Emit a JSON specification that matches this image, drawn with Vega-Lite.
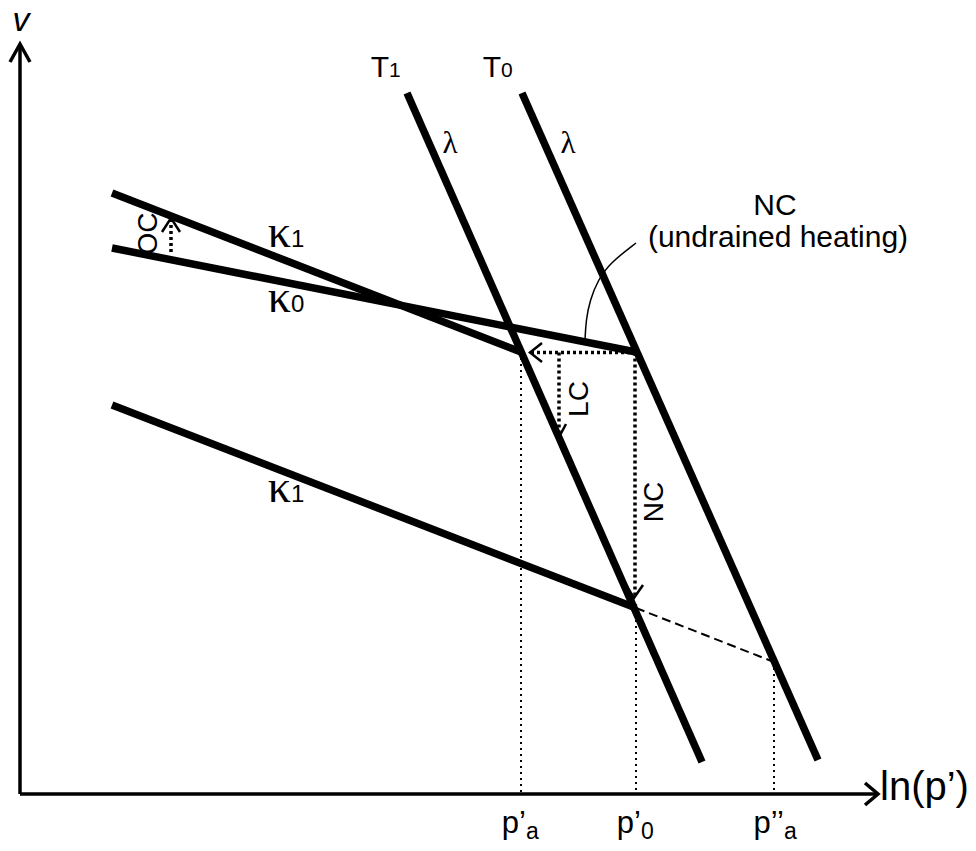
{
  "$schema": "https://vega.github.io/schema/vega-lite/v6.json",
  "width": 976,
  "height": 851,
  "autosize": {"type": "fit", "contains": "padding"},
  "padding": 0,
  "background": "white",
  "config": {"view": {"stroke": null}},
  "datasets": {
    "lines": [
      {"id": "T1", "o": 0, "x": 40.7, "v": 75.8}, {"id": "T1", "o": 1, "x": 70.2, "v": 8.9},
      {"id": "T0", "o": 0, "x": 52.2, "v": 75.8}, {"id": "T0", "o": 1, "x": 81.8, "v": 9.1},
      {"id": "k1u", "o": 0, "x": 11.2, "v": 65.8}, {"id": "k1u", "o": 1, "x": 52.1, "v": 49.9},
      {"id": "k0", "o": 0, "x": 11.2, "v": 60.3}, {"id": "k0", "o": 1, "x": 63.6, "v": 49.9},
      {"id": "k1l", "o": 0, "x": 11.2, "v": 44.6}, {"id": "k1l", "o": 1, "x": 63.6, "v": 24.3}
    ],
    "axes": [
      {"id": "vaxis", "o": 0, "x": 2.0, "v": 5.7}, {"id": "vaxis", "o": 1, "x": 2.0, "v": 80.6},
      {"id": "lnaxis", "o": 0, "x": 2.0, "v": 5.7}, {"id": "lnaxis", "o": 1, "x": 87.7, "v": 5.7},
      {"id": "varrow", "o": 0, "x": 1.0, "v": 78.9}, {"id": "varrow", "o": 1, "x": 2.0, "v": 80.7}, {"id": "varrow", "o": 2, "x": 3.0, "v": 78.9},
      {"id": "lnarrow", "o": 0, "x": 86.5, "v": 6.8}, {"id": "lnarrow", "o": 1, "x": 87.8, "v": 5.7}, {"id": "lnarrow", "o": 2, "x": 86.5, "v": 4.6}
    ],
    "paths": [
      {"id": "OC", "o": 0, "x": 17.1, "v": 59.9}, {"id": "OC", "o": 1, "x": 17.1, "v": 63.1},
      {"id": "heat", "o": 0, "x": 63.6, "v": 49.85}, {"id": "heat", "o": 1, "x": 53.1, "v": 49.85},
      {"id": "LC", "o": 0, "x": 55.9, "v": 49.85}, {"id": "LC", "o": 1, "x": 55.9, "v": 41.5},
      {"id": "NC", "o": 0, "x": 63.5, "v": 49.85}, {"id": "NC", "o": 1, "x": 63.5, "v": 25.4}
    ],
    "pathArrows": [
      {"id": "OC", "o": 0, "x": 16.2, "v": 61.9}, {"id": "OC", "o": 1, "x": 17.1, "v": 63.3}, {"id": "OC", "o": 2, "x": 18.0, "v": 61.9},
      {"id": "heat", "o": 0, "x": 54.2, "v": 50.8}, {"id": "heat", "o": 1, "x": 53.0, "v": 49.85}, {"id": "heat", "o": 2, "x": 54.2, "v": 48.9},
      {"id": "LC", "o": 0, "x": 55.2, "v": 42.7}, {"id": "LC", "o": 1, "x": 55.9, "v": 41.4}, {"id": "LC", "o": 2, "x": 56.6, "v": 42.7},
      {"id": "NC", "o": 0, "x": 62.6, "v": 26.6}, {"id": "NC", "o": 1, "x": 63.4, "v": 25.3}, {"id": "NC", "o": 2, "x": 64.3, "v": 26.6}
    ],
    "projections": [
      {"id": "pa", "o": 0, "x": 52.1, "v": 49.9}, {"id": "pa", "o": 1, "x": 52.1, "v": 5.7},
      {"id": "p0", "o": 0, "x": 63.6, "v": 24.3}, {"id": "p0", "o": 1, "x": 63.6, "v": 5.7},
      {"id": "ppa", "o": 0, "x": 77.4, "v": 18.9}, {"id": "ppa", "o": 1, "x": 77.4, "v": 5.7}
    ],
    "swelling": [
      {"id": "s", "o": 0, "x": 63.6, "v": 24.3}, {"id": "s", "o": 1, "x": 77.4, "v": 18.9}
    ],
    "leader": [
      {"id": "c", "o": 0, "x": 63.6, "v": 60.8},
      {"id": "c", "o": 1, "x": 61.0, "v": 58.8},
      {"id": "c", "o": 2, "x": 59.8, "v": 57.1},
      {"id": "c", "o": 3, "x": 59.0, "v": 55.1},
      {"id": "c", "o": 4, "x": 58.6, "v": 53.1},
      {"id": "c", "o": 5, "x": 58.5, "v": 51.1}
    ],
    "symbolsT": [
      {"x": 38.9, "v": 77.4, "main": "T", "sub": "1"},
      {"x": 50.1, "v": 77.4, "main": "T", "sub": "0"}
    ],
    "symbolsKappa": [
      {"x": 29.1, "v": 60.4, "main": "κ", "sub": "1"},
      {"x": 29.1, "v": 53.9, "main": "κ", "sub": "0"},
      {"x": 29.1, "v": 34.9, "main": "κ", "sub": "1"}
    ],
    "tickBase": [
      {"x": 52.6, "v": 1.8, "t": "p’"},
      {"x": 64.1, "v": 1.8, "t": "p’"},
      {"x": 78.4, "v": 1.8, "t": "p’’"}
    ],
    "tickSub": [
      {"x": 52.6, "v": 1.2, "t": "a"},
      {"x": 64.1, "v": 1.2, "t": "0"},
      {"x": 78.4, "v": 1.2, "t": "a"}
    ],
    "lambda": [
      {"x": 45.0, "v": 69.8, "t": "λ"},
      {"x": 56.8, "v": 69.8, "t": "λ"}
    ],
    "notes": [
      {"x": 77.5, "v": 63.6, "t": "NC"},
      {"x": 77.8, "v": 60.4, "t": "(undrained heating)"}
    ],
    "pathLabels": [
      {"x": 14.9, "v": 61.75, "t": "OC"},
      {"x": 58.0, "v": 45.2, "t": "LC"},
      {"x": 65.5, "v": 34.9, "t": "NC"}
    ],
    "vTitle": [{"x": 2.1, "v": 82.0, "t": "v"}],
    "lnTitle": [{"x": 88.0, "v": 5.1, "t": "ln(p’)"}]
  },
  "encoding": {
    "x": {"field": "x", "type": "quantitative", "scale": {"domain": [0, 97.6], "nice": false, "zero": false}, "axis": null},
    "y": {"field": "v", "type": "quantitative", "scale": {"domain": [0, 85.1], "nice": false, "zero": false}, "axis": null}
  },
  "layer": [
    {"data": {"name": "projections"}, "mark": {"type": "line", "stroke": "black", "strokeWidth": 2, "strokeDash": [2, 4]},
     "encoding": {"detail": {"field": "id"}, "order": {"field": "o"}}},
    {"data": {"name": "swelling"}, "mark": {"type": "line", "stroke": "black", "strokeWidth": 2, "strokeDash": [9, 5]},
     "encoding": {"detail": {"field": "id"}, "order": {"field": "o"}}},
    {"data": {"name": "paths"}, "mark": {"type": "line", "stroke": "black", "strokeWidth": 3.5, "strokeDash": [3, 3]},
     "encoding": {"detail": {"field": "id"}, "order": {"field": "o"}}},
    {"data": {"name": "pathArrows"}, "mark": {"type": "line", "stroke": "black", "strokeWidth": 2.5},
     "encoding": {"detail": {"field": "id"}, "order": {"field": "o"}}},
    {"data": {"name": "leader"}, "mark": {"type": "line", "stroke": "black", "strokeWidth": 1.5, "interpolate": "basis"},
     "encoding": {"detail": {"field": "id"}, "order": {"field": "o"}}},
    {"data": {"name": "lines"}, "mark": {"type": "line", "stroke": "black", "strokeWidth": 7.5},
     "encoding": {"detail": {"field": "id"}, "order": {"field": "o"}}},
    {"data": {"name": "axes"}, "mark": {"type": "line", "stroke": "black", "strokeWidth": 3.5},
     "encoding": {"detail": {"field": "id"}, "order": {"field": "o"}}},
    {"data": {"name": "symbolsT"}, "mark": {"type": "text", "font": "Liberation Sans", "fontSize": 30, "align": "right", "baseline": "alphabetic", "color": "black"},
     "encoding": {"text": {"field": "main"}}},
    {"data": {"name": "symbolsT"}, "mark": {"type": "text", "font": "Liberation Sans", "fontSize": 21, "align": "left", "baseline": "alphabetic", "color": "black"},
     "encoding": {"text": {"field": "sub"}}},
    {"data": {"name": "symbolsKappa"}, "mark": {"type": "text", "font": "Liberation Serif", "fontSize": 46, "align": "right", "baseline": "alphabetic", "color": "black"},
     "encoding": {"text": {"field": "main"}}},
    {"data": {"name": "symbolsKappa"}, "mark": {"type": "text", "font": "Liberation Sans", "fontSize": 24, "align": "left", "baseline": "alphabetic", "color": "black"},
     "encoding": {"text": {"field": "sub"}}},
    {"data": {"name": "tickBase"}, "mark": {"type": "text", "font": "Liberation Sans", "fontSize": 31, "align": "right", "baseline": "alphabetic", "color": "black"},
     "encoding": {"text": {"field": "t"}}},
    {"data": {"name": "tickSub"}, "mark": {"type": "text", "font": "Liberation Sans", "fontSize": 23, "align": "left", "baseline": "alphabetic", "color": "black"},
     "encoding": {"text": {"field": "t"}}},
    {"data": {"name": "lambda"}, "mark": {"type": "text", "font": "Liberation Serif", "fontSize": 31, "align": "center", "baseline": "alphabetic", "color": "black"},
     "encoding": {"text": {"field": "t"}}},
    {"data": {"name": "notes"}, "mark": {"type": "text", "font": "Liberation Sans", "fontSize": 30, "align": "center", "baseline": "alphabetic", "color": "black"},
     "encoding": {"text": {"field": "t"}}},
    {"data": {"name": "pathLabels"}, "mark": {"type": "text", "font": "Liberation Sans", "fontSize": 28, "align": "center", "baseline": "middle", "angle": 270, "color": "black"},
     "encoding": {"text": {"field": "t"}}},
    {"data": {"name": "vTitle"}, "mark": {"type": "text", "font": "Liberation Sans", "fontSize": 34, "fontStyle": "italic", "align": "center", "baseline": "alphabetic", "color": "black"},
     "encoding": {"text": {"field": "t"}}},
    {"data": {"name": "lnTitle"}, "mark": {"type": "text", "font": "Liberation Sans", "fontSize": 40, "align": "left", "baseline": "alphabetic", "color": "black"},
     "encoding": {"text": {"field": "t"}}}
  ]
}
